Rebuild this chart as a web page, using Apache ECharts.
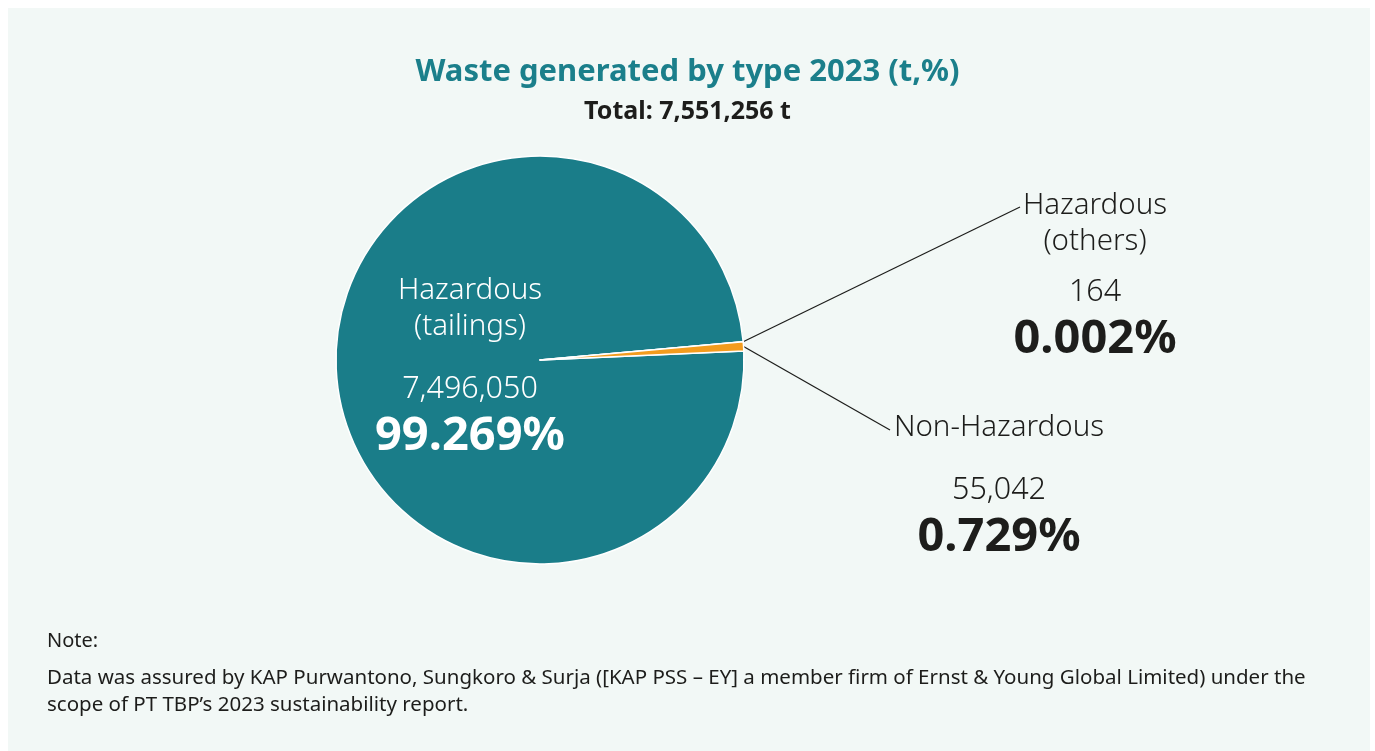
<!DOCTYPE html>
<html>
<head>
<meta charset="utf-8">
<script src="https://cdn.jsdelivr.net/npm/echarts@6/dist/echarts.min.js"></script>
<style>
html,body{margin:0;padding:0;background:#ffffff;}
#chart{width:1375px;height:751px;}
</style>
</head>
<body>
<div id="chart"></div>
<script>
// ---- data ----
var categories = ["Hazardous\n(tailings)", "Hazardous\n(others)", "Non-Hazardous"];
var values = [7496050, 164, 55042];
var titleText = "Waste generated by type 2023 (t,%)";
var subtitleText = "Total: 7,551,256 t";
var noteHead = "Note:";
var noteBody = "Data was assured by KAP Purwantono, Sungkoro & Surja ([KAP PSS \u2013 EY] a member firm of Ernst & Young Global Limited) under the\nscope of PT TBP\u2019s 2023 sustainability report.";

// ---- styles / layout ----
var FONT = "Noto Sans";
var TEAL = "#1a7d89";
var ORANGE = "#f39c1e";
var DARK = "#1d1d1b";
var sliceColors = [TEAL, ORANGE, ORANGE];
var labelColors = ["#ffffff", DARK, DARK];
var gapStyle = ["g1", "g2", "g1"];
var labelPos = [
  {x: 470, y: 273},
  {x: 1095, y: 188, lx: 1020, ly: 207},
  {x: 999, y: 410, lx: 890, ly: 430}
];

function fmt(n){ return n.toLocaleString('en-US'); }

function richFor(color){
  return {
    n: {fontFamily: FONT, fontSize: 29.5, fontWeight: 300, color: color, lineHeight: 36, align: 'center'},
    g1: {lineHeight: 26, fontSize: 10},
    g2: {lineHeight: 14, fontSize: 10},
    v: {fontFamily: FONT, fontSize: 30.5, fontWeight: 300, color: color, lineHeight: 36, align: 'center'},
    p: {fontFamily: FONT, fontSize: 47, fontWeight: 'bold', color: color, lineHeight: 60, align: 'center'}
  };
}

var seriesData = categories.map(function(name, i){
  return {
    name: name,
    value: values[i],
    itemStyle: {color: sliceColors[i]},
    label: {
      show: true,
      position: i === 0 ? 'inside' : 'outside',
      rich: richFor(labelColors[i]),
      color: labelColors[i]
    },
    labelLine: {show: i !== 0}
  };
});

var chart = echarts.init(document.getElementById('chart'), null, {renderer: 'canvas'});
chart.setOption({
  backgroundColor: '#ffffff',
  animation: false,
  graphic: [{
    type: 'rect', z: -10, silent: true,
    shape: {x: 8, y: 8, width: 1362, height: 743},
    style: {fill: '#f2f8f6'}
  }],
  title: [
    {text: titleText, left: 'center', top: 52,
     textStyle: {fontFamily: FONT, fontSize: 31, fontWeight: 'bold', color: '#1b7f8b'}},
    {text: subtitleText, left: 'center', top: 94,
     textStyle: {fontFamily: FONT, fontSize: 25, fontWeight: 'bold', color: DARK}},
    {text: noteHead, left: 42, top: 626,
     textStyle: {fontFamily: FONT, fontSize: 20, fontWeight: 'normal', color: DARK}},
    {text: noteBody, left: 42, top: 660,
     textStyle: {fontFamily: FONT, fontSize: 20.5, fontWeight: 'normal', color: DARK, lineHeight: 27}}
  ],
  series: [{
    type: 'pie',
    center: [540, 360],
    radius: [0, 204],
    startAngle: 2.5,
    clockwise: true,
    percentPrecision: 3,
    avoidLabelOverlap: false,
    itemStyle: {borderColor: '#ffffff', borderWidth: 1.5},
    emphasis: {disabled: true},
    label: {
      formatter: function(p){
        var lines = p.name.split('\n').map(function(s){ return '{n|' + s + '}'; });
        lines.push('{' + gapStyle[p.dataIndex] + '| }');
        lines.push('{v|' + fmt(p.value) + '}');
        lines.push('{p|' + p.percent.toFixed(3) + '%}');
        return lines.join('\n');
      }
    },
    labelLine: {
      show: true, length: 20, length2: 0,
      lineStyle: {color: DARK, width: 1.2}
    },
    labelLayout: function(params){
      var pos = labelPos[params.dataIndex];
      var out = {x: pos.x, y: pos.y, align: 'center', verticalAlign: 'top'};
      if (pos.lx != null && params.labelLinePoints && params.labelLinePoints.length) {
        var start = params.labelLinePoints[0];
        out.labelLinePoints = [[start[0], start[1]], [pos.lx, pos.ly]];
      }
      return out;
    },
    data: seriesData
  }]
});
</script>
</body>
</html>
